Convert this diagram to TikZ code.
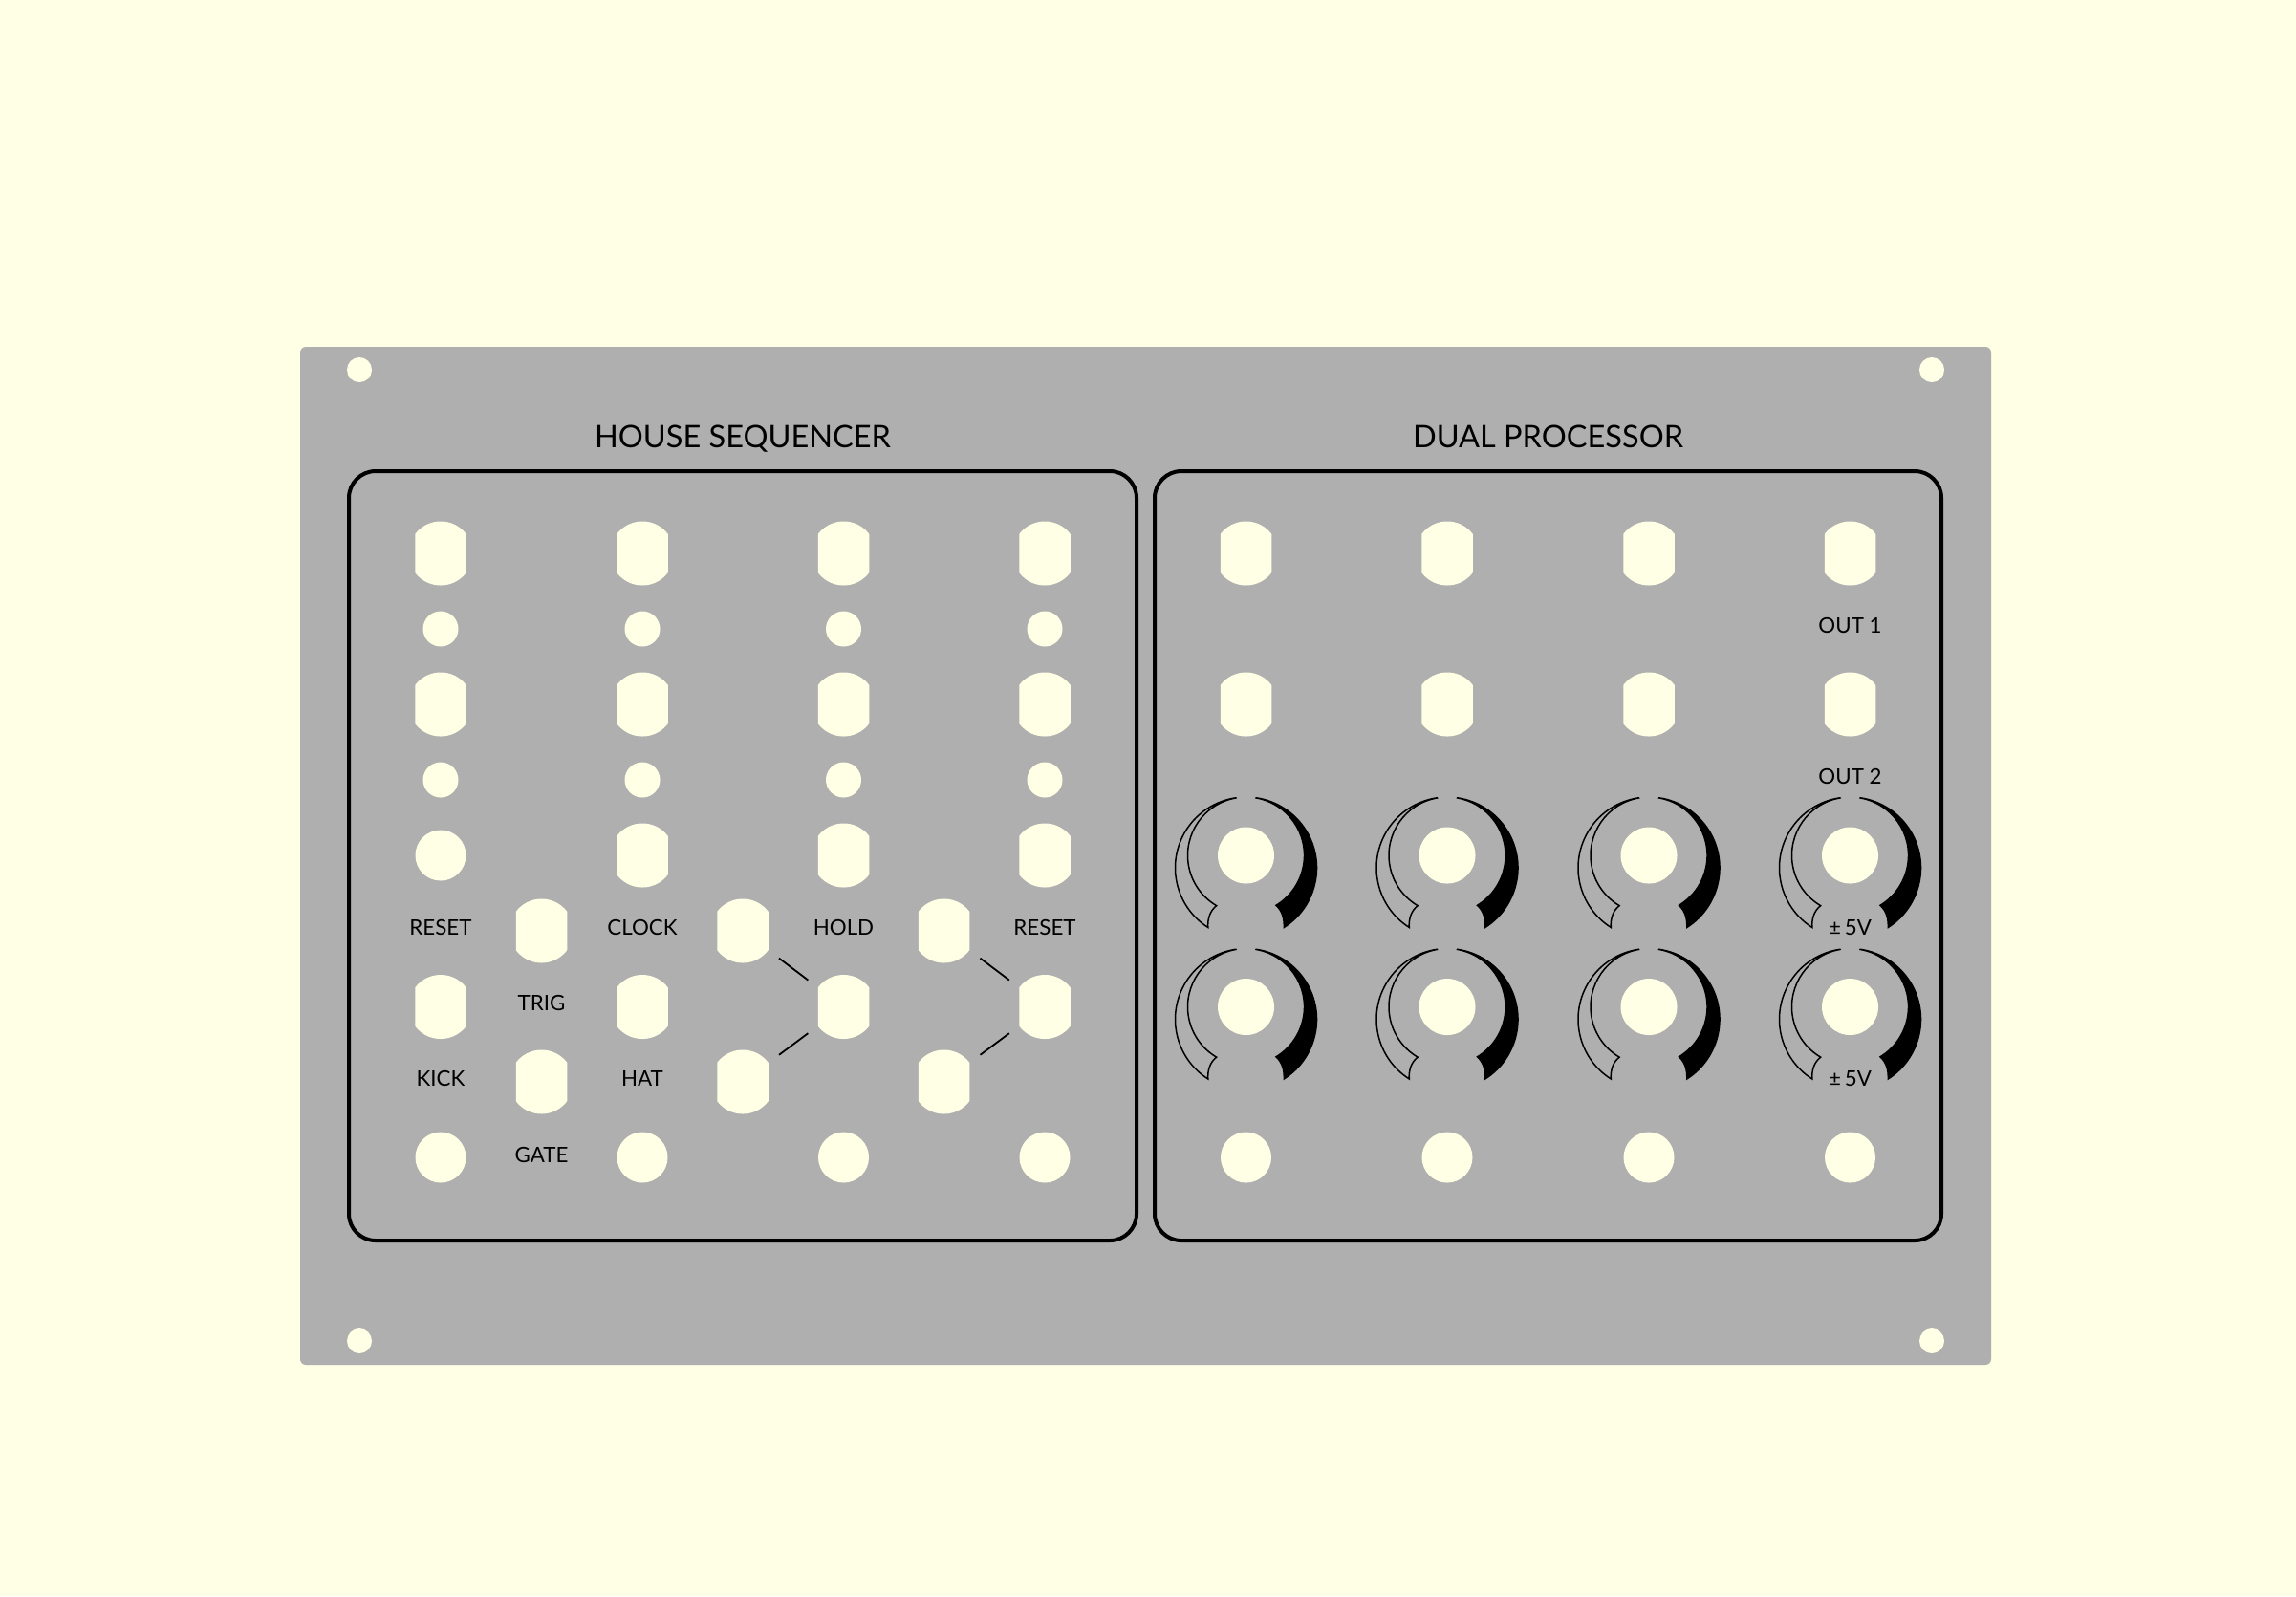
\documentclass[tikz,border=0pt]{standalone}
\usepackage{fontspec}
\setmainfont{Lato}
\definecolor{cream}{HTML}{FFFFE5}
\definecolor{plate}{HTML}{AFAFAF}
\tikzset{
  jack/.style={rectangle, inner sep=0, outer sep=0, minimum width=.535cm, minimum height=.67cm,
    path picture={\fill[cream] (path picture bounding box.center) circle (.335);}},
  port/.style={circle, fill=cream, inner sep=0, outer sep=0, minimum size=.53cm},
  pothole/.style={port, minimum size=.59cm},
  led/.style={port, minimum size=.37cm},
  screw/.style={port, minimum size=.26cm},
  caption/.style={anchor=base, inner sep=0, font=\fontsize{6.35}{8}\selectfont},
  heading/.style={anchor=base, inner sep=0, font=\fontsize{9.25}{11}\selectfont},
  section/.style={draw, line width=.04cm, rounded corners=.28cm},
  tick/.style={line width=.018cm, shorten <=.14cm, shorten >=.13cm},
  knob/.pic={
    \draw[line width=.015cm] (100:.61) arc[start angle=100, end angle=239.6, radius=.61]
      .. controls (-.377,-.58) and (-.402,-.66) .. (-.3976,-.7541)
      arc[start angle=237.5, end angle=98.3, radius=.74] -- cycle;
    \filldraw[line width=.015cm] (80:.61) arc[start angle=80, end angle=-59, radius=.61]
      .. controls (.38,-.58) and (.40,-.66) .. (.3976,-.7541)
      arc[start angle=-57.5, end angle=81.7, radius=.74] -- cycle;
  }
}
\begin{document}
\begin{tikzpicture}
      \useasboundingbox (0, 0) rectangle (24.02, -16.70);
      \fill[cream] (0, 0) rectangle (24.02, -16.70);
      \fill[plate, rounded corners=.06cm] (3.14, -3.63) rectangle (20.83, -14.28);
      \node[screw] (s1) at (3.76, -3.87) {};
      \node[screw] (s2) at (20.21, -3.87) {};
      \node[screw] (s3) at (3.76, -14.03) {};
      \node[screw] (s4) at (20.21, -14.03) {};
      \node[heading] (seqtitle) at (7.77, -4.68) {HOUSE SEQUENCER};
      \node[heading] (dualtitle) at (16.195, -4.68) {DUAL PROCESSOR};
      \draw[section] (3.65, -4.93) rectangle (11.89, -12.98);
      \draw[section] (12.08, -4.93) rectangle (20.31, -12.98);
      % sequencer, top rows
      \node[jack] (a1) at (4.61, -5.79) {};
      \node[jack] (b1) at (6.72, -5.79) {};
      \node[jack] (c1) at (8.825, -5.79) {};
      \node[jack] (d1) at (10.93, -5.79) {};
      \node[led] (la1) at (4.61, -6.58) {};
      \node[led] (lb1) at (6.72, -6.58) {};
      \node[led] (lc1) at (8.825, -6.58) {};
      \node[led] (ld1) at (10.93, -6.58) {};
      \node[jack] (a2) at (4.61, -7.37) {};
      \node[jack] (b2) at (6.72, -7.37) {};
      \node[jack] (c2) at (8.825, -7.37) {};
      \node[jack] (d2) at (10.93, -7.37) {};
      \node[led] (la2) at (4.61, -8.16) {};
      \node[led] (lb2) at (6.72, -8.16) {};
      \node[led] (lc2) at (8.825, -8.16) {};
      \node[led] (ld2) at (10.93, -8.16) {};
      \node[port] (a3) at (4.61, -8.95) {};
      \node[jack] (b3) at (6.72, -8.95) {};
      \node[jack] (c3) at (8.825, -8.95) {};
      \node[jack] (d3) at (10.93, -8.95) {};
      % sequencer, lower rows
      \node[jack] (a4) at (4.61, -10.535) {};
      \node[jack] (b4) at (6.72, -10.535) {};
      \node[jack] (c4) at (8.825, -10.535) {};
      \node[jack] (d4) at (10.93, -10.535) {};
      \node[jack] (trig) at (5.665, -9.74) {};
      \node[jack] (gate) at (5.665, -11.32) {};
      \node[jack] (hold1) at (7.77, -9.74) {} edge[tick] (c4);
      \node[jack] (hold2) at (7.77, -11.32) {} edge[tick] (c4);
      \node[jack] (reset1) at (9.875, -9.74) {} edge[tick] (d4);
      \node[jack] (reset2) at (9.875, -11.32) {} edge[tick] (d4);
      \node[port] (a5) at (4.61, -12.11) {};
      \node[port] (b5) at (6.72, -12.11) {};
      \node[port] (c5) at (8.825, -12.11) {};
      \node[port] (d5) at (10.93, -12.11) {};
      \node[caption] (resetl) at (4.61, -9.78) {RESET};
      \node[caption] (clock) at (6.72, -9.78) {CLOCK};
      \node[caption] (holdl) at (8.825, -9.78) {HOLD};
      \node[caption] (resetr) at (10.93, -9.78) {RESET};
      \node[caption] (trigl) at (5.665, -10.57) {TRIG};
      \node[caption] (kick) at (4.61, -11.36) {KICK};
      \node[caption] (hat) at (6.72, -11.36) {HAT};
      \node[caption] (gatel) at (5.665, -12.16) {GATE};
      % processor
      \node[jack] (e1) at (13.035, -5.79) {};
      \node[jack] (f1) at (15.14, -5.79) {};
      \node[jack] (g1) at (17.25, -5.79) {};
      \node[jack] (h1) at (19.355, -5.79) {};
      \node[jack] (e2) at (13.035, -7.37) {};
      \node[jack] (f2) at (15.14, -7.37) {};
      \node[jack] (g2) at (17.25, -7.37) {};
      \node[jack] (h2) at (19.355, -7.37) {};
      \pic at (13.035, -8.95) {knob};
      \pic at (15.14, -8.95) {knob};
      \pic at (17.25, -8.95) {knob};
      \pic at (19.355, -8.95) {knob};
      \pic at (13.035, -10.535) {knob};
      \pic at (15.14, -10.535) {knob};
      \pic at (17.25, -10.535) {knob};
      \pic at (19.355, -10.535) {knob};
      \node[pothole] (e3) at (13.035, -8.95) {};
      \node[pothole] (f3) at (15.14, -8.95) {};
      \node[pothole] (g3) at (17.25, -8.95) {};
      \node[pothole] (h3) at (19.355, -8.95) {};
      \node[pothole] (e4) at (13.035, -10.535) {};
      \node[pothole] (f4) at (15.14, -10.535) {};
      \node[pothole] (g4) at (17.25, -10.535) {};
      \node[pothole] (h4) at (19.355, -10.535) {};
      \node[port] (e5) at (13.035, -12.11) {};
      \node[port] (f5) at (15.14, -12.11) {};
      \node[port] (g5) at (17.25, -12.11) {};
      \node[port] (h5) at (19.355, -12.11) {};
      \node[caption] (out1) at (19.355, -6.62) {OUT 1};
      \node[caption] (out2) at (19.355, -8.20) {OUT 2};
      \node[caption] (range1) at (19.355, -9.78) {±\,5V};
      \node[caption] (range2) at (19.355, -11.36) {±\,5V};
    \end{tikzpicture}
\end{document}
